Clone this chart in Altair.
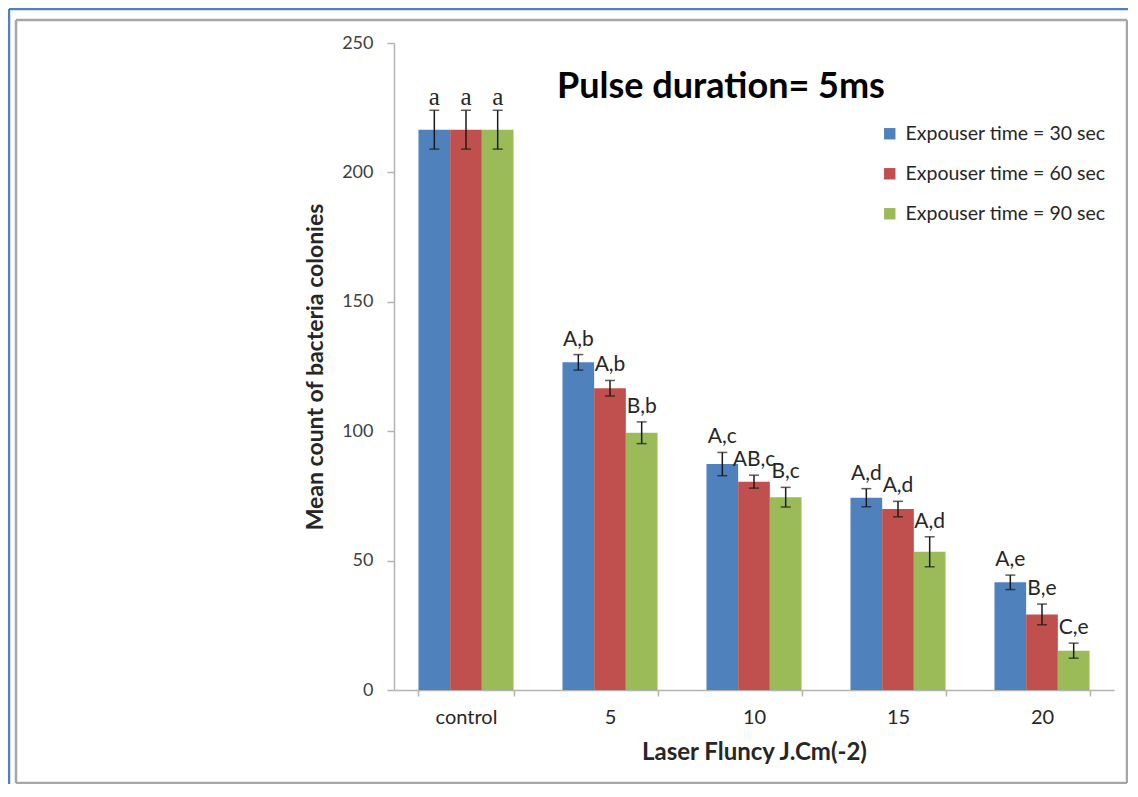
import altair as alt
import pandas as pd

categories = ["control", "5", "10", "15", "20"]
series = ["Expouser time = 30 sec", "Expouser time = 60 sec", "Expouser time = 90 sec"]
colors = ["#4F81BD", "#C0504D", "#9BBB59"]

means_30 = [216.5, 126.6, 87.3, 74.3, 41.6]
means_60 = [216.5, 116.6, 80.5, 69.9, 29.2]
means_90 = [216.5, 99.4, 74.5, 53.4, 15.2]

err_30 = [7.5, 3.0, 4.5, 3.5, 2.8]
err_60 = [7.5, 3.0, 2.5, 3.0, 4.0]
err_90 = [7.5, 4.2, 3.8, 5.8, 2.9]

labels_30 = ["a", "A,b", "A,c", "A,d", "A,e"]
labels_60 = ["a", "A,b", "AB,c", "A,d", "B,e"]
labels_90 = ["a", "B,b", "B,c", "A,d", "C,e"]

y_ticks = [0, 50, 100, 150, 200, 250]

rows = []
for s, m, e, l in zip(series, [means_30, means_60, means_90],
                      [err_30, err_60, err_90], [labels_30, labels_60, labels_90]):
    for c, mv, ev, lv in zip(categories, m, e, l):
        rows.append(dict(cat=c, series=s, mean=mv, lo=mv - ev, hi=mv + ev, label=lv))
df = pd.DataFrame(rows)

FONT = "Lato"

x_enc = alt.X(
    "cat:N", sort=categories,
    scale=alt.Scale(paddingInner=0.34, paddingOuter=0.17),
    axis=alt.Axis(
        title="Laser Fluncy J.Cm(-2)", labelAngle=0, labelFontSize=20, grid=False,
        labelColor="#262626", labelPadding=11, labelFont=FONT,
        tickBand="extent", tickSize=6, tickColor="#b3b3b3", tickWidth=1.5,
        domainColor="#b3b3b3", domainWidth=1.5,
        titleFont=FONT, titleFontSize=24, titleFontWeight="bold", titleColor="#262626",
        titleX=360, titleY=62, titleBaseline="middle", titleAlign="center",
    ),
)
xo_enc = alt.XOffset("series:N", sort=series, scale=alt.Scale(paddingInner=0, paddingOuter=0))
y_enc = alt.Y(
    "mean:Q", scale=alt.Scale(domain=[0, 250], nice=False),
    axis=alt.Axis(
        values=y_ticks, grid=False, title="Mean count of bacteria colonies",
        labelFontSize=18, labelColor="#404040", labelFont=FONT, labelPadding=14,
        tickSize=7, tickColor="#b3b3b3", tickWidth=1.5,
        domainColor="#b3b3b3", domainWidth=1.5,
        titleFont=FONT, titleFontSize=23, titleFontWeight="bold", titleColor="#262626",
        titleX=-79, titleY=323.5, titleAngle=-90, titleBaseline="middle", titleAlign="center",
    ),
)

base = alt.Chart(df)

bars = base.mark_bar().encode(
    x=x_enc, xOffset=xo_enc, y=y_enc,
    color=alt.Color(
        "series:N", sort=series, scale=alt.Scale(domain=series, range=colors),
        legend=alt.Legend(
            title=None, orient="none", legendX=486, legendY=81,
            symbolType="square", symbolSize=130, symbolStrokeWidth=0,
            labelFontSize=19.5, labelFont=FONT, labelColor="#262626", labelLimit=0,
            labelOffset=6, rowPadding=19, padding=0,
        ),
    ),
)

xs = dict(x=alt.X("cat:N", sort=categories), xOffset=alt.XOffset("series:N", sort=series))

rules = base.mark_rule(color="#1a1a1a", strokeWidth=1.5).encode(y="lo:Q", y2="hi:Q", **xs)
caps_hi = base.mark_tick(color="#1a1a1a", thickness=1.5, size=10).encode(y="hi:Q", **xs)
caps_lo = base.mark_tick(color="#1a1a1a", thickness=1.5, size=10).encode(y="lo:Q", **xs)

labels = base.transform_filter(alt.datum.cat != "control").mark_text(
    font=FONT, fontSize=21, color="#262626", baseline="alphabetic", dy=-9
).encode(y="hi:Q", text="label:N", **xs)
labels_ctrl = base.transform_filter(alt.datum.cat == "control").mark_text(
    font="Liberation Serif", fontSize=25, color="#262626", baseline="alphabetic", dy=-5
).encode(y="hi:Q", text="label:N", **xs)

title = alt.Chart(pd.DataFrame({"t": ["Pulse duration= 5ms"]})).mark_text(
    font=FONT, fontSize=36, fontWeight="bold", color="#000000", baseline="middle", align="center"
).encode(x=alt.value(327), y=alt.value(44), text="t:N")

one = pd.DataFrame({"a": [0]})


def frame(x0, y0, x1, y1, color):
    """Four decorative border lines (pixel positions relative to plot origin)."""
    style = dict(color=color, strokeWidth=2.5)
    return [
        alt.Chart(one).mark_rule(**style).encode(x=alt.value(x0), x2=alt.value(x1), y=alt.value(y0)),
        alt.Chart(one).mark_rule(**style).encode(x=alt.value(x0), x2=alt.value(x1), y=alt.value(y1)),
        alt.Chart(one).mark_rule(**style).encode(x=alt.value(x0), y=alt.value(y0), y2=alt.value(y1)),
        alt.Chart(one).mark_rule(**style).encode(x=alt.value(x1), y=alt.value(y0), y2=alt.value(y1)),
    ]


frames = frame(-385, -34, 760, 780, "#4F81BD") + frame(-378, -23, 733, 740, "#a6a6a6")

chart = alt.layer(
    *frames, bars, rules, caps_hi, caps_lo, labels, labels_ctrl, title
).properties(
    width=720, height=647,
    autosize=alt.AutoSizeParams(type="none"),
    padding={"left": 386, "top": 35, "right": 14, "bottom": 94},
).configure(
    background="white",
    view=alt.ViewConfig(stroke="transparent", strokeWidth=0),
    axis=alt.AxisConfig(grid=False),
)

chart.save("out.html", embed_options={"renderer": "svg", "actions": False})
